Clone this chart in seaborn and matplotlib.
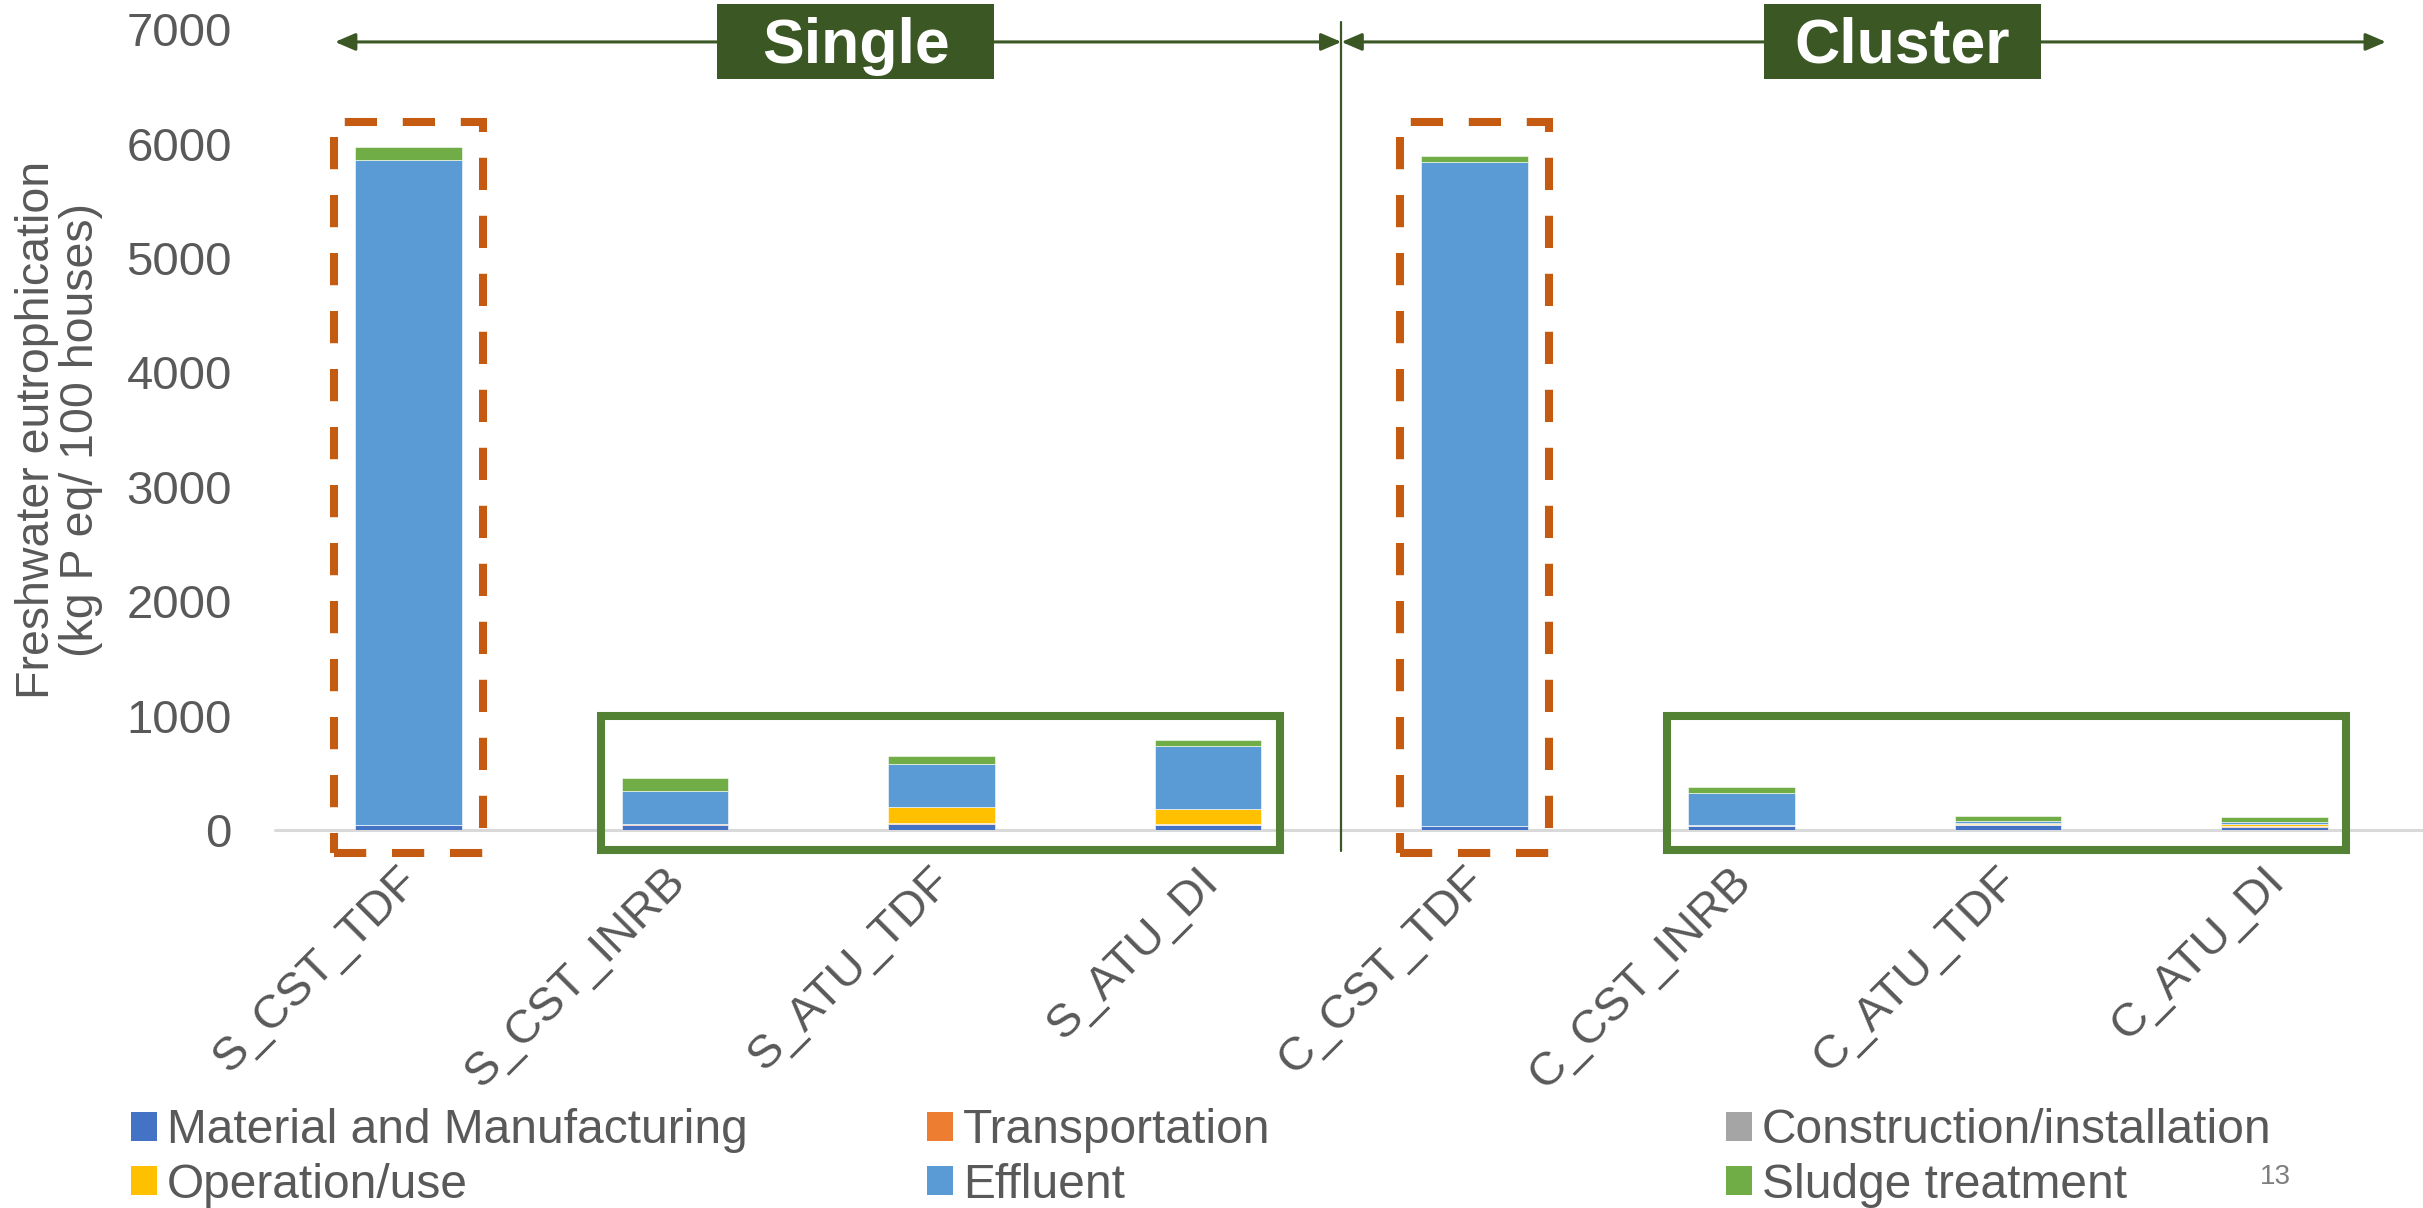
import matplotlib
matplotlib.use("Agg")
import matplotlib.pyplot as plt
from matplotlib.patches import Patch, Rectangle
from matplotlib.transforms import ScaledTranslation
import pandas as pd
import seaborn as sns

# scenarios along x, life-cycle stages stacked bottom -> top
SCENARIOS = ["S_CST_TDF", "S_CST_INRB", "S_ATU_TDF", "S_ATU_DI",
             "C_CST_TDF", "C_CST_INRB", "C_ATU_TDF", "C_ATU_DI"]
STAGES = ["Material and Manufacturing", "Transportation", "Construction/installation",
          "Operation/use", "Effluent", "Sludge treatment"]

material = [40, 45, 55, 44, 30, 35, 44, 29]
transportation = [3, 3, 3, 3, 2, 2, 2, 2]
construction = [2, 2, 2, 2, 2, 2, 2, 2]
operation = [0, 0, 137, 137, 0, 0, 12, 19]
effluent = [5810, 290, 380, 546, 5806, 283, 21, 17]
sludge = [120, 118, 65, 58, 50, 55, 44, 47]

COLORS = {
    "Material and Manufacturing": "#4472C4",
    "Transportation": "#ED7D31",
    "Construction/installation": "#A5A5A5",
    "Operation/use": "#FFC000",
    "Effluent": "#5B9BD5",
    "Sludge treatment": "#70AD47",
}
GRAY = "#595959"
DARK_GREEN = "#3A5724"
BOX_GREEN = "#548235"
ORANGE = "#C55A11"

series = [material, transportation, construction, operation, effluent, sludge]
rows = []
for stage, values in zip(STAGES, series):
    for scen, v in zip(SCENARIOS, values):
        rows.append({"scenario": scen, "stage": stage, "value": v})
df = pd.DataFrame(rows)
df["scenario"] = pd.Categorical(df["scenario"], categories=SCENARIOS, ordered=True)

sns.set_theme(style="white")
plt.rcParams["font.family"] = ["Liberation Sans", "DejaVu Sans"]

fig = plt.figure(figsize=(24.23, 12.08), dpi=100)
ax = fig.add_axes([0.1135, 0.313, 0.8865, 0.6627])

# histplot stacks the last hue level at the bottom
sns.histplot(
    data=df,
    x="scenario",
    weights="value",
    hue="stage",
    hue_order=STAGES[::-1],
    multiple="stack",
    discrete=True,
    shrink=0.4,
    palette=COLORS,
    alpha=1,
    edgecolor="white",
    linewidth=0.4,
    legend=False,
    ax=ax,
)

ax.set_xlim(-0.5, 7.557)
ax.set_ylim(0, 7000)
ax.set_yticks(range(0, 7001, 1000))
ax.set_xticks(range(len(SCENARIOS)))
ax.set_xticklabels(SCENARIOS, rotation=45, ha="right", va="top", rotation_mode="anchor")
ax.tick_params(axis="y", labelsize=34, labelcolor=GRAY, length=0, pad=31)
ax.tick_params(axis="x", labelsize=34, labelcolor=GRAY, length=0, pad=21)
shift = ScaledTranslation(-0.12, 0, fig.dpi_scale_trans)
for lab in ax.get_xticklabels():
    lab.set_transform(lab.get_transform() + shift)
ax.set_xlabel("")
ax.set_ylabel("Freshwater eutrophication\n(kg P eq/ 100 houses)", fontsize=33.5,
              color=GRAY, linespacing=1.0)
ax.yaxis.set_label_coords(-0.080, 0.5)
for s in ax.spines.values():
    s.set_visible(False)
ax.grid(False)
ax.axhline(0, color="#D9D9D9", lw=2.2, zorder=0.5, clip_on=False)

# highlight boxes
for x0 in (-0.28, 3.72):
    ax.add_patch(Rectangle((x0, -206), 0.56, 6392, fill=False, ec=ORANGE, lw=5.8,
                           ls=(0, (4, 3.2)), clip_on=False, zorder=5))
for x0, x1 in ((0.723, 3.27), (4.721, 7.268)):
    ax.add_patch(Rectangle((x0, -179), x1 - x0, 1179, fill=False, ec=BOX_GREEN, lw=5.8,
                           joinstyle="miter", clip_on=False, zorder=5))

# group separator and arrows
ax.plot([3.5, 3.5], [-186, 7060], color=DARK_GREEN, lw=1.6, clip_on=False, zorder=4)
arrow_kw = dict(arrowstyle="<|-|>,head_length=0.35,head_width=0.15", color=DARK_GREEN,
                lw=2.2, shrinkA=0, shrinkB=0, mutation_scale=35)
ax.annotate("", xy=(3.5, 6890), xytext=(-0.275, 6890), arrowprops=arrow_kw,
            annotation_clip=False, zorder=4)
ax.annotate("", xy=(7.418, 6890), xytext=(3.5, 6890), arrowprops=arrow_kw,
            annotation_clip=False, zorder=4)

for (x0, x1), label in (((1.158, 2.197), "Single"), ((5.085, 6.124), "Cluster")):
    ax.add_patch(Rectangle((x0, 6562), x1 - x0, 656, fc=DARK_GREEN, ec="none",
                           clip_on=False, zorder=6))
    ax.text((x0 + x1) / 2, 6710, label, ha="center", va="baseline", fontsize=45,
            fontweight="bold", color="white", zorder=7)

# legend: three columns, row-major like the original
legend_cols = [
    ["Material and Manufacturing", "Operation/use"],
    ["Transportation", "Effluent"],
    ["Construction/installation", "Sludge treatment"],
]
for x, names in zip((131 / 2423, 927 / 2423, 1726 / 2423), legend_cols):
    handles = [Patch(facecolor=COLORS[n], edgecolor="none", label=n) for n in names]
    fig.legend(handles=handles, loc="center left", bbox_to_anchor=(x, 0.0415),
               frameon=False, fontsize=34.5, labelcolor=GRAY, handlelength=0.55,
               handleheight=0.55, handletextpad=0.2, labelspacing=0.2,
               borderpad=0, borderaxespad=0)

fig.text(0.939, 0.0257, "13", fontsize=20, color="#7F7F7F", ha="center", va="center")

fig.savefig("out.png", dpi=100)
